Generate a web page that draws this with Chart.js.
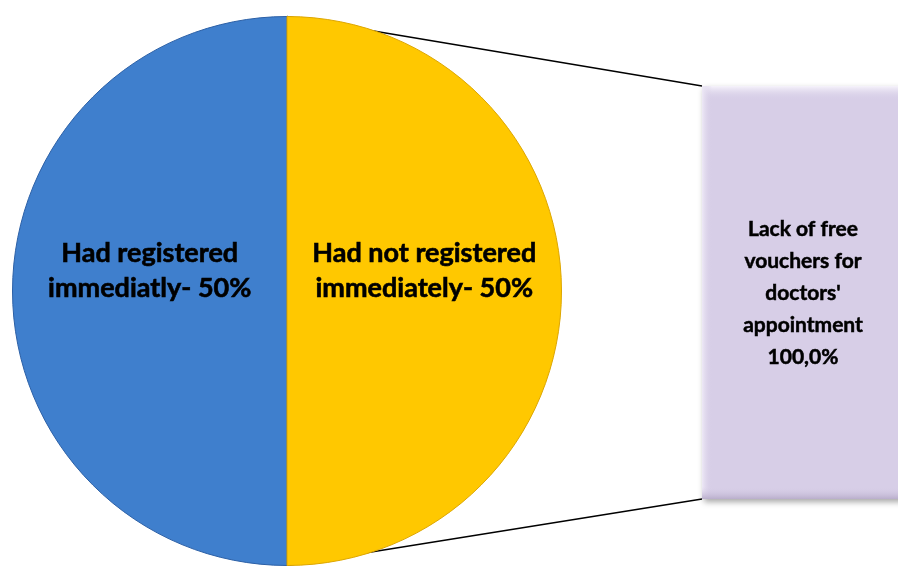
<!DOCTYPE html>
<html>
<head>
<meta charset="utf-8">
<script src="https://cdn.jsdelivr.net/npm/chart.js@4"></script>
<style>
  html, body { margin: 0; padding: 0; background: #fff; }
  .wrap { width: 898px; height: 566px; position: relative; }
</style>
</head>
<body>
<div class="wrap"><canvas id="pie"></canvas></div>
<script>
// pie slices
const sliceLabels = [['Had registered', 'immediatly- 50%'], ['Had not registered', 'immediately- 50%']];
const sliceValues = [50, 50];
const sliceColors = ['#3F7FCD', '#FFC800'];
const sliceEdges = ['#2C60A6', '#DDA600'];

// bar-of-pie box (breakdown of the second slice)
const boxLabel = ['Lack of free', 'vouchers for', "doctors'", 'appointment'];
const boxValue = 100.0;

const fmtPct = v => v.toFixed(1).replace('.', ',') + '%';

// bold text, a bit heavier than Lato bold alone
function heavyText(ctx, t, x, y) {
    ctx.strokeText(t, x, y);
    ctx.fillText(t, x, y);
}

const boxPlugin = {
    id: 'barOfPie',
    beforeDatasetsDraw(chart) {
        const ctx = chart.ctx;
        const arc = chart.getDatasetMeta(0).data[0];
        const cx = arc.x, cy = arc.y, r = arc.outerRadius;
        ctx.save();
        ctx.strokeStyle = '#000';
        ctx.lineWidth = 1.5;
        ctx.beginPath();
        ctx.moveTo(cx, cy - r);
        ctx.lineTo(702, 86);
        ctx.moveTo(cx, cy + r);
        ctx.lineTo(702, 499);
        ctx.stroke();
        ctx.restore();
    },
    afterDraw(chart) {
        const ctx = chart.ctx;
        const x = 702, y = 86, w = 204, h = 413;
        ctx.save();
        ctx.shadowColor = 'rgba(0,0,0,0.35)';
        ctx.shadowBlur = 6;
        ctx.shadowOffsetX = 2;
        ctx.shadowOffsetY = 3;
        ctx.fillStyle = '#D7CEE7';
        ctx.fillRect(x, y, w, h);
        ctx.shadowColor = 'transparent';
        let g = ctx.createLinearGradient(0, y, 0, y + 14);
        g.addColorStop(0, '#F6F3FB');
        g.addColorStop(1, 'rgba(215,206,231,0)');
        ctx.fillStyle = g;
        ctx.fillRect(x, y, w, 14);
        g = ctx.createLinearGradient(x, 0, x + 10, 0);
        g.addColorStop(0, '#EEE9F6');
        g.addColorStop(1, 'rgba(215,206,231,0)');
        ctx.fillStyle = g;
        ctx.fillRect(x, y, 10, h);
        g = ctx.createLinearGradient(0, y + h - 12, 0, y + h);
        g.addColorStop(0, 'rgba(215,206,231,0)');
        g.addColorStop(1, '#B9AECB');
        ctx.fillStyle = g;
        ctx.fillRect(x, y + h - 12, w, 12);
        ctx.fillStyle = '#000';
        ctx.strokeStyle = '#000';
        ctx.lineWidth = 0.5;
        ctx.font = 'bold 21px Lato';
        ctx.textAlign = 'center';
        ctx.textBaseline = 'middle';
        const lines = boxLabel.concat([fmtPct(boxValue)]);
        lines.forEach((t, i) => heavyText(ctx, t, 803, 229 + i * 32));
        ctx.restore();
    },
    afterDatasetsDraw(chart) {
        const ctx = chart.ctx;
        const meta = chart.getDatasetMeta(0);
        ctx.save();
        ctx.fillStyle = '#000';
        ctx.strokeStyle = '#000';
        ctx.lineWidth = 0.6;
        ctx.font = 'bold 27px Lato';
        ctx.textAlign = 'center';
        ctx.textBaseline = 'middle';
        meta.data.forEach((arc, i) => {
            const p = arc.tooltipPosition();
            const lines = sliceLabels[i];
            lines.forEach((t, j) => heavyText(ctx, t, p.x, p.y - 38 + j * 35));
        });
        ctx.restore();
    }
};

new Chart(document.getElementById('pie'), {
    type: 'pie',
    data: {
        labels: sliceLabels.map(l => l.join(' ')),
        datasets: [{
            data: sliceValues,
            backgroundColor: c => {
                const a = c.element;
                if (!a || !a.outerRadius) return sliceColors[c.dataIndex];
                const g = c.chart.ctx.createRadialGradient(a.x, a.y, 0, a.x, a.y, a.outerRadius);
                g.addColorStop(0, sliceColors[c.dataIndex]);
                g.addColorStop(0.94, sliceColors[c.dataIndex]);
                g.addColorStop(1, sliceEdges[c.dataIndex]);
                return g;
            },
            borderColor: sliceEdges,
            borderWidth: 1
        }]
    },
    options: {
        responsive: true,
        maintainAspectRatio: false,
        animation: false,
        rotation: 180,
        layout: { padding: { left: 12, top: 16, right: 336, bottom: 0 } },
        plugins: {
            legend: { display: false },
            tooltip: { enabled: false }
        }
    },
    plugins: [boxPlugin]
});
</script>
</body>
</html>
